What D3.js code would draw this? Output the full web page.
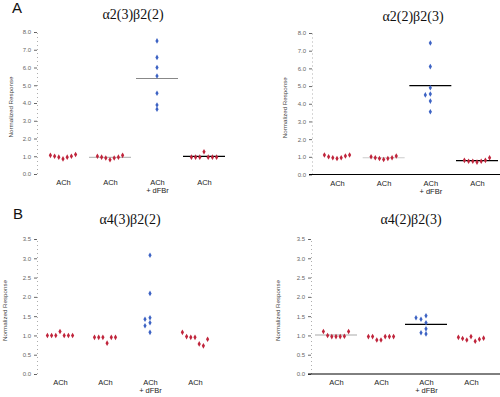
<!DOCTYPE html>
<html><head><meta charset="utf-8">
<script src="https://cdn.jsdelivr.net/npm/d3@7"></script>
<style>body{margin:0;background:#fff}svg{display:block}</style>
</head><body>
<script>
// ---- data ----
const categories = ["ACh", "ACh", "ACh\n+ dFBr", "ACh"];
const titles = ["α2(3)β2(2)", "α2(2)β2(3)", "α4(3)β2(2)", "α4(2)β2(3)"];
const ticksA = [0, 1, 2, 3, 4, 5, 6, 7, 8];
const ticksB = [0, 0.5, 1, 1.5, 2, 2.5, 3, 3.5];

const a23b22 = [
  [1.05, 1.0, 0.95, 0.85, 0.95, 1.0, 1.1],
  [1.0, 0.95, 0.9, 0.8, 0.9, 0.95, 1.05],
  [7.5, 6.57, 6.0, 5.52, 4.55, 3.89, 3.65],
  [0.95, 0.95, 0.95, 1.25, 0.95, 0.95, 0.95]
];
const a22b23 = [
  [1.1, 1.0, 0.95, 0.9, 0.95, 1.05, 1.1],
  [1.0, 0.95, 0.9, 0.85, 0.9, 0.95, 1.05],
  [7.43, 6.1, 4.9, 4.55, 4.5, 4.15, 3.55],
  [0.8, 0.75, 0.75, 0.7, 0.75, 0.8, 0.95]
];
const a43b22 = [
  [1.0, 1.0, 1.0, 1.1, 1.0, 1.0, 1.0],
  [0.95, 0.95, 0.95, 0.8, 0.95, 0.95],
  [3.08, 2.09, 1.46, 1.42, 1.33, 1.25, 1.08],
  [1.08, 0.97, 0.95, 0.95, 0.78, 0.73, 0.9]
];
const a42b23 = [
  [1.1, 1.0, 0.97, 0.97, 0.97, 0.98, 1.1],
  [0.97, 0.97, 0.88, 0.88, 0.97, 0.97, 0.97],
  [1.51, 1.42, 1.33, 1.17, 1.07, 1.04, 1.46],
  [0.95, 0.92, 0.88, 0.97, 0.85, 0.9, 0.93]
];
// mean-line colour per group (null = no line)
const lines1 = [null, "#bbb", "#888", "#000"];
const lines2 = [null, "#ccc", "#000", "#000"];
const lines3 = [null, null, null, null];
const lines4 = ["#aaa", null, "#000", null];

// ---- layout ----
const W = 500, H = 397;
const svg = d3.select("body").append("svg").attr("width", W).attr("height", H);
const red = "#c0253c", blue = "#3d63c4";

const panels = [
  {data: a23b22, lines: lines1, title: titles[0], ticks: ticksA, max: 8, axX: 37, yTop: 32, yBot: 174, x0: 63, x1: 204, tx: 133, ty: 19, ytitleX: 11, solidX: false},
  {data: a22b23, lines: lines2, title: titles[1], ticks: ticksA, max: 8, axX: 312, yTop: 33, yBot: 174.5, x0: 337, x1: 477, tx: 413, ty: 21, ytitleX: 285, solidX: true},
  {data: a43b22, lines: lines3, title: titles[2], ticks: ticksB, max: 3.5, axX: 37, yTop: 239, yBot: 374, x0: 60, x1: 195, tx: 130, ty: 224, ytitleX: 5, solidX: false},
  {data: a42b23, lines: lines4, title: titles[3], ticks: ticksB, max: 3.5, axX: 311, yTop: 239, yBot: 374, x0: 336, x1: 471, tx: 411, ty: 224, ytitleX: 278, solidX: true}
];

panels.forEach(p => {
  const g = svg.append("g");
  const y = d3.scaleLinear().domain([0, p.max]).range([p.yBot, p.yTop]);
  const x = d3.scalePoint().domain(d3.range(categories.length)).range([p.x0, p.x1]);

  // y axis
  const yAx = g.append("g").attr("transform", `translate(${p.axX},0)`)
    .call(d3.axisLeft(y).tickValues(p.ticks).tickFormat(d3.format(".1f")).tickSize(3).tickPadding(3));
  yAx.select(".domain").attr("stroke", "#999").attr("stroke-dasharray", "1,3").attr("stroke-width", 0.8);
  yAx.selectAll(".tick line").attr("stroke", "#444").attr("stroke-width", 0.8);
  yAx.selectAll(".tick text").attr("font-family", "Arial, Liberation Sans, sans-serif").attr("font-size", 6).attr("fill", "#666");

  // x axis
  if (p.solidX) {
    g.append("line").attr("x1", p.axX - 3).attr("x2", W).attr("y1", y(0)).attr("y2", y(0))
      .attr("stroke", "#000").attr("stroke-width", 1);
  }
  const xAx = g.append("g").attr("transform", `translate(0,${y(0)})`)
    .call(d3.axisBottom(x).tickSize(0).tickPadding(6).tickFormat(() => ""));
  xAx.select(".domain").remove();
  xAx.selectAll(".tick text").each(function(d) {
    const t = d3.select(this).attr("font-family", "Arial, Liberation Sans, sans-serif").attr("font-size", 7.5).attr("fill", "#222");
    categories[d].split("\n").forEach((s, i) => {
      t.append("tspan").attr("x", 0).attr("dy", i === 0 ? "0.71em" : "1.05em").text(s);
    });
  });

  // y title
  g.append("text").attr("transform", `translate(${p.ytitleX},${(p.yTop + p.yBot) / 2 + 4}) rotate(-90)`)
    .attr("text-anchor", "middle").attr("dy", "0.35em")
    .attr("font-family", "Arial, Liberation Sans, sans-serif").attr("font-size", 6.2).attr("fill", "#444")
    .text("Normalized Response");

  // title
  g.append("text").attr("x", p.tx).attr("y", p.ty).attr("text-anchor", "middle")
    .attr("font-family", "Liberation Serif, Times New Roman, serif").attr("font-size", 14).attr("fill", "#111")
    .text(p.title);

  // mean lines
  p.data.forEach((vals, gi) => {
    if (!p.lines[gi]) return;
    const m = d3.mean(vals);
    g.append("line").attr("x1", x(gi) - 21).attr("x2", x(gi) + 21)
      .attr("y1", y(m)).attr("y2", y(m)).attr("stroke", p.lines[gi]).attr("stroke-width", 1.1);
  });

  // points
  const diamond = d3.symbol().type(d3.symbolDiamond).size(9);
  p.data.forEach((vals, gi) => {
    const isBlue = gi === 2;
    const pts = [];
    vals.forEach((v, i) => {
      let px;
      if (isBlue) {
        px = x(gi);
        pts.forEach(q => { if (Math.abs(q.py - y(v)) < 4 && Math.abs(q.px - px) < 4) px -= 5; });
      } else {
        px = x(gi) + (i - (vals.length - 1) / 2) * 4.2;
      }
      pts.push({px, py: y(v)});
    });
    g.selectAll(null).data(pts).join("path")
      .attr("d", diamond)
      .attr("transform", d => `translate(${d.px},${d.py})`)
      .attr("fill", isBlue ? blue : red);
  });
});

// panel letters
svg.append("text").attr("x", 12).attr("y", 13).attr("font-family", "Arial, Liberation Sans, sans-serif")
  .attr("font-size", 15).attr("fill", "#111").text("A");
svg.append("text").attr("x", 13).attr("y", 219).attr("font-family", "Arial, Liberation Sans, sans-serif")
  .attr("font-size", 15).attr("fill", "#111").text("B");
</script>
</body></html>
